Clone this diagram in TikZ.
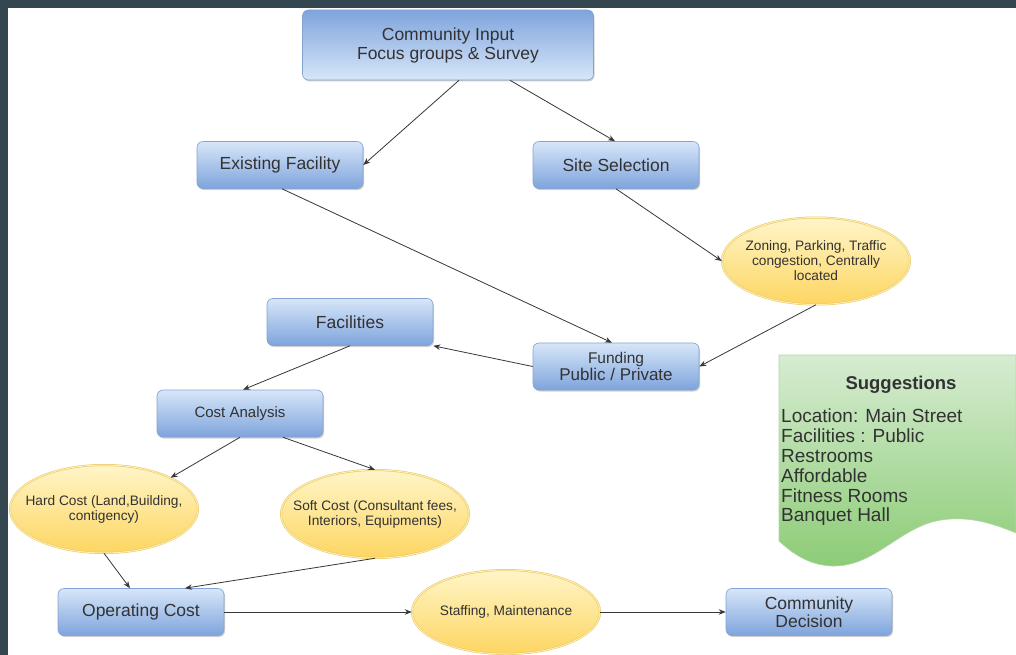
\documentclass[tikz,border=0pt]{standalone}
\usepackage{fontspec}
\setmainfont{Liberation Sans}
\usetikzlibrary{shapes.geometric,arrows.meta,shadows}
\definecolor{frame}{RGB}{52,70,80}
\definecolor{bluetop}{RGB}{215,230,249}
\definecolor{bluebot}{RGB}{126,164,220}
\definecolor{blueline}{RGB}{132,162,210}
\definecolor{ylight}{RGB}{255,245,200}
\definecolor{ydark}{RGB}{253,214,98}
\definecolor{yline}{RGB}{232,198,96}
\definecolor{yinner}{RGB}{255,238,180}
\definecolor{gtop}{RGB}{214,236,209}
\definecolor{gbot}{RGB}{140,204,118}
\definecolor{gline}{RGB}{180,215,168}
\definecolor{txt}{RGB}{50,50,50}
\definecolor{arr}{RGB}{55,55,55}
\begin{document}
\begin{tikzpicture}[x=1pt,y=-1pt,
  bluebox/.style={rectangle, rounded corners=6pt, draw=blueline, line width=0.6pt,
    top color=bluetop, bottom color=bluebot, text=txt, align=center, inner sep=0pt,
    minimum width=166pt, minimum height=47pt,
    font=\fontsize{17.5}{19}\selectfont,
    drop shadow={shadow xshift=1pt, shadow yshift=-1.5pt, opacity=0.3, fill=black!60}},
  yell/.style={ellipse, draw=yline, line width=0.5pt, double=yinner, double distance=1pt,
    top color=ylight, bottom color=ydark, inner sep=0pt,
    minimum width=188pt, minimum height=88pt},
  ytext/.style={text=txt, align=center, font=\fontsize{13.7}{15}\selectfont},
  conn/.style={draw=arr, line width=0.8pt, -{Stealth[length=7pt,width=5.5pt]}}
]
\useasboundingbox (0,0) rectangle (1016,655);
\fill[frame] (0,0) rectangle (1016,655);
\fill[white] (8,8) rectangle (1016,655);

% Suggestions shape
\path[draw=gline, line width=0.6pt, top color=gtop, bottom color=gbot]
  (779,355) -- (1016,355) -- (1016,533)
  .. controls (990,522) and (962,514) .. (932,522)
  .. controls (895,533) and (872,567) .. (832,566)
  .. controls (808,565) and (792,553) .. (779,541) -- cycle;
\node[text=txt, font=\bfseries\fontsize{18.5}{20}\selectfont] (sugt) at (901,385) {Suggestions};
\node[text=txt, anchor=north west, align=left, inner sep=0pt, font=\fontsize{19}{19.8}\selectfont] (sugl) at (781,409)
  {Location: Main Street\\Facilities : Public\\Restrooms\\Affordable\\Fitness Rooms\\Banquet Hall};

% Boxes
\node[bluebox, minimum width=291pt, minimum height=70pt, top color=bluebot, bottom color=bluetop] (ci) at (448,45)
  {Community Input\\Focus groups \& Survey};
\node[bluebox] (ef) at (280,165) {Existing Facility};
\node[bluebox] (ss) at (616,165) {Site Selection};
\node[bluebox] (fa) at (350,322) {Facilities};
\node[bluebox, font=\fontsize{17}{17.5}\selectfont] (fu) at (616,366.5) {{\fontsize{15.5}{17.5}\selectfont Funding}\\Public / Private};
\node[bluebox, font=\fontsize{15}{17}\selectfont] (ca) at (240,413.5) {Cost Analysis};
\node[bluebox] (op) at (141,612) {Operating Cost};
\node[bluebox, font=\fontsize{17.5}{17.5}\selectfont] (cd) at (809,612) {Community\\Decision};

% Ellipses
\node[yell, minimum height=87pt, label={[ytext]center:Zoning, Parking, Traffic\\congestion, Centrally\\located}] (zon) at (816,261) {};
\node[yell, label={[ytext]center:Hard Cost (Land,Building,\\contigency)}] (hc) at (104,509) {};
\node[yell, label={[ytext]center:Soft Cost (Consultant fees,\\Interiors, Equipments)}] (sc) at (375,514) {};
\node[yell, minimum height=84pt, label={[ytext]center:Staffing, Maintenance}] (st) at (506,612) {};

% Connectors
\draw[conn] ([xshift=11pt]ci.south) -- (ef.east);
\draw[conn] ([xshift=62pt]ci.south) -- ([xshift=-1pt]ss.north);
\draw[conn] ([xshift=2pt]ef.south) -- ([xshift=-4pt]fu.north);
\draw[conn] (ss.south) -- (zon.west);
\draw[conn] (zon.south) -- (fu.east);
\draw[conn] (fu.west) -- (fa.south east);
\draw[conn] (fa.south) -- ([xshift=3pt]ca.north);
\draw[conn] (ca.south) -- (hc.north east);
\draw[conn] ([xshift=43pt]ca.south) -- (sc.north);
\draw[conn] (hc.south) -- ([xshift=-11pt]op.north);
\draw[conn] (sc.south) -- ([xshift=44pt]op.north);
\draw[conn] (op.east) -- (st.west);
\draw[conn] (st.east) -- (cd.west);
\end{tikzpicture}
\end{document}
